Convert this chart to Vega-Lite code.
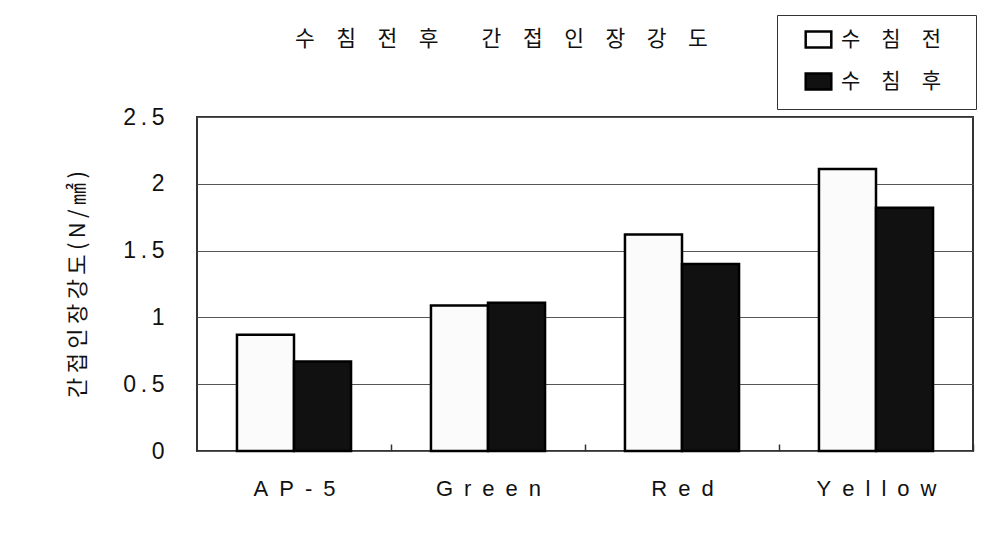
{
  "$schema": "https://vega.github.io/schema/vega-lite/v6.json",
  "width": 776,
  "height": 334,
  "autosize": "none",
  "padding": {"left": 197, "top": 117, "right": 35, "bottom": 84},
  "background": "white",
  "title": {
    "text": "수\u3000침\u3000전\u3000후\u3000\u2002\u2002간\u3000접\u3000인\u3000장\u3000강\u3000도",
    "anchor": "start",
    "frame": "group",
    "dx": 98,
    "dy": 40,
    "font": "Noto Sans CJK KR",
    "fontSize": 21.5,
    "fontWeight": "normal",
    "color": "#111111"
  },
  "data": {
    "values": [
      {"sample": "AP-5", "condition": "수침전", "value": 0.87},
      {"sample": "AP-5", "condition": "수침후", "value": 0.67},
      {"sample": "Green", "condition": "수침전", "value": 1.09},
      {"sample": "Green", "condition": "수침후", "value": 1.11},
      {"sample": "Red", "condition": "수침전", "value": 1.62},
      {"sample": "Red", "condition": "수침후", "value": 1.40},
      {"sample": "Yellow", "condition": "수침전", "value": 2.11},
      {"sample": "Yellow", "condition": "수침후", "value": 1.82}
    ]
  },
  "mark": {"type": "bar", "stroke": "#000000", "strokeWidth": 2.5},
  "encoding": {
    "x": {
      "field": "sample",
      "type": "nominal",
      "sort": ["AP-5", "Green", "Red", "Yellow"],
      "scale": {"paddingInner": 0.412, "paddingOuter": 0.206},
      "axis": {
        "title": null,
        "labelAngle": 0,
        "labelFont": "Liberation Sans",
        "labelFontSize": 22,
        "labelColor": "#111111",
        "labelExpr": "join(split(datum.label,''),'\u2002')",
        "labelPadding": 34,
        "labelBaseline": "top",
        "ticks": true,
        "tickOffset": 97,
        "labelOffset": -97,
        "tickSize": -7,
        "tickColor": "#333333",
        "tickWidth": 1.5,
        "domain": false,
        "grid": false
      }
    },
    "xOffset": {
      "field": "condition",
      "type": "nominal",
      "sort": ["수침전", "수침후"],
      "scale": {"paddingInner": 0, "paddingOuter": 0}
    },
    "y": {
      "field": "value",
      "type": "quantitative",
      "scale": {"domain": [0, 2.5], "nice": false},
      "axis": {
        "values": [0, 0.5, 1, 1.5, 2, 2.5],
        "format": ".1~f",
        "title": "간\u2009접\u2009인\u2009장\u2009강\u2009도\u2009(\u2009N\u2009/\u2009㎟\u2009)",
        "titleFont": "Noto Sans CJK KR",
        "titleFontSize": 22,
        "titleFontWeight": "normal",
        "titleColor": "#111111",
        "titleX": -120,
        "titleY": 167,
        "titleAngle": -90,
        "titleAlign": "center",
        "titleBaseline": "middle",
        "labelFont": "Liberation Sans",
        "labelFontSize": 23,
        "labelColor": "#111111",
        "labelPadding": 33,
        "labelExpr": "join(split(datum.label,''),'\u2009')",
        "ticks": false,
        "domain": false,
        "grid": true,
        "gridColor": "#555555",
        "gridWidth": 1
      }
    },
    "fill": {
      "field": "condition",
      "type": "nominal",
      "scale": {"domain": ["수침전", "수침후"], "range": ["#fbfbfb", "#111111"]},
      "legend": {
        "title": null,
        "orient": "none",
        "legendX": 580,
        "legendY": -102,
        "strokeColor": "#333333",
        "fillColor": "white",
        "padding": 14,
        "symbolType": "M-1.6,-1H1.6V1H-1.6Z",
        "symbolSize": 256,
        "symbolStrokeColor": "#000000",
        "symbolStrokeWidth": 2.5,
        "symbolOffset": 17,
        "labelOffset": 12,
        "labelFont": "Noto Sans CJK KR",
        "labelFontSize": 21,
        "labelColor": "#111111",
        "labelLimit": 300,
        "labelExpr": "join(split(datum.label,''),'\u3000') + '\u3000\u200b'",
        "rowPadding": 15
      }
    }
  },
  "config": {"view": {"stroke": "#333333", "strokeWidth": 2}}
}
